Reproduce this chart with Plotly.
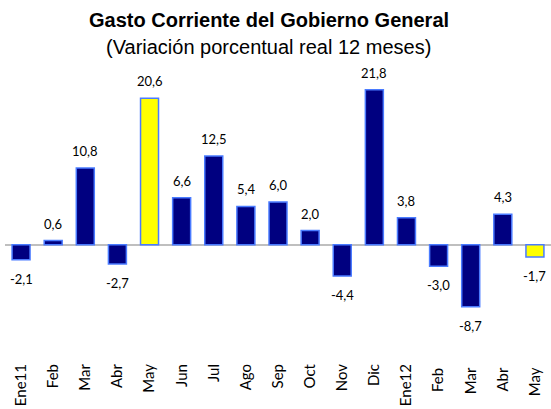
import plotly.graph_objects as go

# Datos: variación porcentual real 12 meses
meses = ["Ene11", "Feb", "Mar", "Abr", "May", "Jun", "Jul", "Ago", "Sep",
         "Oct", "Nov", "Dic", "Ene12", "Feb ", "Mar ", "Abr ", "May "]
valores = [-2.1, 0.6, 10.8, -2.7, 20.6, 6.6, 12.5, 5.4, 6.0,
           2.0, -4.4, 21.8, 3.8, -3.0, -8.7, 4.3, -1.7]
destacados = ["May", "May "]

titulo = "Gasto Corriente del Gobierno General"
subtitulo = "(Variación porcentual real 12 meses)"

colores = ["#FFFF00" if m in destacados else "#000080" for m in meses]
etiquetas = [f"{v:.1f}".replace(".", ",") for v in valores]

fig = go.Figure()
fig.add_trace(go.Bar(
    x=meses, y=valores,
    marker=dict(color=colores, line=dict(color="#4A7BFF", width=1.5)),
    hoverinfo="x+y",
))

# etiquetas de datos encima / debajo de cada barra
for m, v, t in zip(meses, valores, etiquetas):
    fig.add_annotation(
        x=m, y=v, text=t, showarrow=False,
        yanchor="bottom" if v >= 0 else "top",
        yshift=7 if v >= 0 else -9,
        font=dict(family="Lato, Open Sans, sans-serif", size=13, color="#000000"),
    )

# título y subtítulo (desplazados desde el borde superior del área de trazado)
fuente_titulo = "Liberation Sans, Arial, sans-serif"
fig.add_annotation(
    text=f"<b>{titulo}</b>", xref="paper", yref="paper", x=0.4835, y=1,
    xanchor="center", yanchor="middle", yshift=47, showarrow=False,
    font=dict(family=fuente_titulo, size=20, color="#000000"),
)
fig.add_annotation(
    text=subtitulo, xref="paper", yref="paper", x=0.4835, y=1,
    xanchor="center", yanchor="middle", yshift=20, showarrow=False,
    font=dict(family=fuente_titulo, size=20, color="#000000"),
)

fig.update_layout(
    width=551, height=409,
    margin=dict(l=5, r=0, t=67, b=49),
    bargap=0.44,
    showlegend=False,
    plot_bgcolor="white",
    paper_bgcolor="white",
)
fig.update_xaxes(
    tickangle=-90, ticks="", showline=False, showgrid=False,
    tickfont=dict(family="Lato, Open Sans, sans-serif", size=15, color="#000000"),
)
fig.update_yaxes(
    range=[-16.2, 25.0], visible=True, showticklabels=False, showgrid=False,
    zeroline=True, zerolinecolor="#BFBFBF", zerolinewidth=2,
)

# quitar el margen del body para que el gráfico ocupe la ventana exacta
fig.write_html("out.html", config={"displayModeBar": False},
               post_script="document.body.style.margin='0';")
